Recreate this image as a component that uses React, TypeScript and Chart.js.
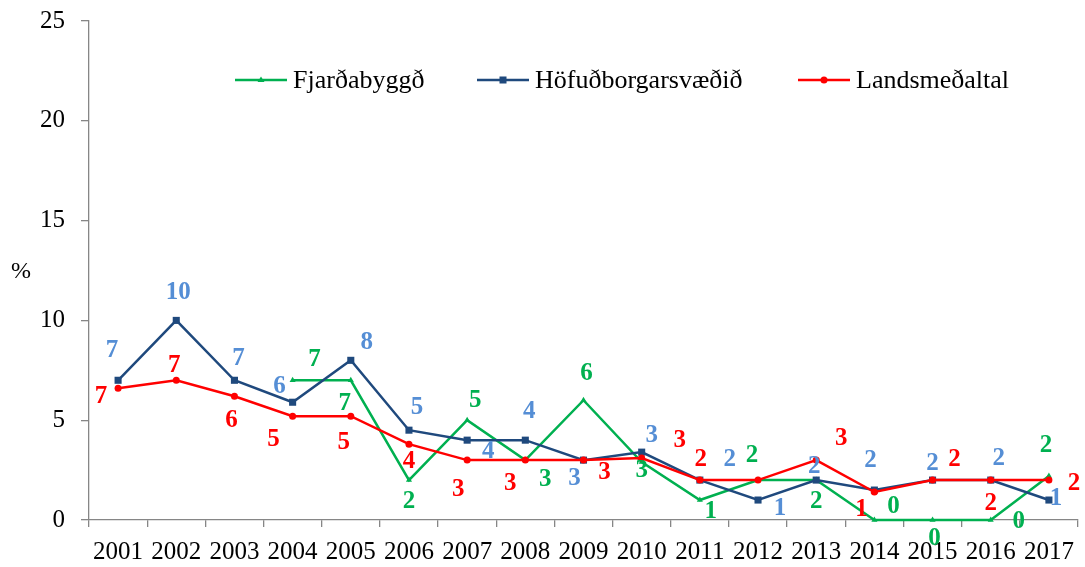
import React, { useEffect, useRef } from "react";
import { Chart, registerables } from "chart.js";

Chart.register(...registerables);

const years = ["2001", "2002", "2003", "2004", "2005", "2006", "2007", "2008", "2009", "2010", "2011", "2012", "2013", "2014", "2015", "2016", "2017"];
const fjardabyggd = [null, null, null, 7.0, 7.0, 2.0, 5.0, 3.0, 6.0, 2.9, 1.0, 2.0, 2.0, 0, 0, 0, 2.2];
const hofudborgarsvaedid = [7.0, 10.0, 7.0, 5.9, 8.0, 4.5, 4.0, 4.0, 3.0, 3.4, 2.0, 1.0, 2.0, 1.5, 2.0, 2.0, 1.0];
const landsmedaltal = [6.6, 7.0, 6.2, 5.2, 5.2, 3.8, 3.0, 3.0, 3.0, 3.1, 2.0, 2.0, 3.0, 1.4, 2.0, 2.0, 2.0];
const yTicks = [0, 5, 10, 15, 20, 25];
const seriesNames = ["Fjarðabyggð", "Höfuðborgarsvæðið", "Landsmeðaltal"];

// style: label offsets (px) relative to each point
const greenLabelOffsets = [null, null, null, [22, -21], [-6, 23], [0, 21], [8, -20], [20, 19], [3, -27], [0, 8], [11, 12], [-6, -25], [0, 21], [19, -13], [2, 19], [28, 2], [-3, -31]];
const navyLabelOffsets = [[-6, -30], [2, -28], [4, -22], [-13, -16], [16, -18], [8, -23], [21, 11], [4, -29], [-9, 18], [10, -17], [30, -21], [22, 9], [-2, -14], [-4, -30], [0, -17], [8, -22], [7, -1]];
const redLabelOffsets = [[-17, 8], [-2, -15], [-3, 24], [-19, 23], [-7, 26], [0, 17], [-9, 29], [-15, 23], [21, 12], [38, -18], [1, -21], null, [25, -22], [-13, 17], [22, -21], [0, 23], [25, 3]];

const GREEN = "#00B050";
const NAVY = "#1F497D";
const NAVY_LABEL = "#558ED5";
const RED = "#FF0000";
const SERIF = '"Liberation Serif", "Times New Roman", serif';

const labelPlugin = {
  id: "pointLabels",
  afterDatasetsDraw(chart: any) {
    const ctx = chart.ctx;
    ctx.save();
    ctx.font = `bold 25px ${SERIF}`;
    ctx.textAlign = "center";
    ctx.textBaseline = "middle";
    chart.data.datasets.forEach((ds: any, di: number) => {
      const meta = chart.getDatasetMeta(di);
      const offs = ds.labelOffsets;
      ctx.fillStyle = ds.labelColor;
      ds.data.forEach((v: any, i: number) => {
        if (v === null || !offs[i]) return;
        const pt = meta.data[i];
        ctx.fillText(String(Math.round(v)), pt.x + offs[i][0], pt.y + offs[i][1]);
      });
    });
    ctx.restore();
  },
};

const legendPlugin = {
  id: "customLegend",
  afterDraw(chart: any) {
    const ctx = chart.ctx;
    const starts = [235, 477, 798];
    const y = 80;
    ctx.save();
    chart.data.datasets.forEach((ds: any, di: number) => {
      const x0 = starts[di];
      const x1 = x0 + 52;
      ctx.strokeStyle = ds.borderColor;
      ctx.lineWidth = 2.5;
      ctx.beginPath();
      ctx.moveTo(x0, y);
      ctx.lineTo(x1, y);
      ctx.stroke();
      ctx.fillStyle = ds.borderColor;
      const cx = (x0 + x1) / 2;
      if (ds.pointStyle === "circle") {
        ctx.beginPath();
        ctx.arc(cx, y, 3.5, 0, Math.PI * 2);
        ctx.fill();
      } else if (ds.pointStyle === "rect") {
        ctx.fillRect(cx - 3.5, y - 3.5, 7, 7);
      } else {
        ctx.beginPath();
        ctx.moveTo(cx, y - 3.5);
        ctx.lineTo(cx + 3.5, y + 2);
        ctx.lineTo(cx - 3.5, y + 2);
        ctx.closePath();
        ctx.fill();
      }
      ctx.fillStyle = "#000";
      ctx.font = `26px ${SERIF}`;
      ctx.textAlign = "left";
      ctx.textBaseline = "middle";
      ctx.fillText(ds.label, x1 + 6, y + 1);
    });
    // y-axis unit
    ctx.font = `24px ${SERIF}`;
    ctx.textAlign = "center";
    ctx.textBaseline = "middle";
    ctx.fillStyle = "#000";
    ctx.fillText("%", 21, 272);
    ctx.restore();
  },
};

export default function App() {
  const ref = useRef<HTMLCanvasElement | null>(null);
  useEffect(() => {
    if (!ref.current) return;
    const chart = new Chart(ref.current, {
      type: "line",
      data: {
        labels: years,
        datasets: [
          {
            label: seriesNames[0],
            data: fjardabyggd,
            borderColor: GREEN,
            backgroundColor: GREEN,
            borderWidth: 2.5,
            pointStyle: "triangle",
            pointRadius: 3.5,
            pointBorderWidth: 0,
            tension: 0,
            clip: false,
            order: 2,
            labelColor: GREEN,
            labelOffsets: greenLabelOffsets,
          } as any,
          {
            label: seriesNames[1],
            data: hofudborgarsvaedid,
            borderColor: NAVY,
            backgroundColor: NAVY,
            borderWidth: 2.5,
            pointStyle: "rect",
            pointRadius: 5,
            pointBorderWidth: 0,
            tension: 0,
            clip: false,
            order: 1,
            labelColor: NAVY_LABEL,
            labelOffsets: navyLabelOffsets,
          } as any,
          {
            label: seriesNames[2],
            data: landsmedaltal,
            borderColor: RED,
            backgroundColor: RED,
            borderWidth: 2.5,
            pointStyle: "circle",
            pointRadius: 3.5,
            pointBorderWidth: 0,
            tension: 0,
            clip: false,
            order: 0,
            labelColor: RED,
            labelOffsets: redLabelOffsets,
          } as any,
        ],
      },
      options: {
        responsive: false,
        animation: false,
        devicePixelRatio: 1,
        layout: { padding: { top: 21, right: 7, left: 0, bottom: 0 } },
        plugins: { legend: { display: false }, tooltip: { enabled: false } },
        scales: {
          x: {
            type: "category",
            offset: true,
            grid: {
              display: true,
              drawOnChartArea: false,
              drawTicks: true,
              tickLength: 7,
              offset: true,
              color: "#868686",
              lineWidth: 1.3,
            },
            border: { display: true, color: "#868686", width: 1.3 },
            ticks: {
              color: "#000",
              font: { family: SERIF, size: 25 },
              padding: 10,
              maxRotation: 0,
              autoSkip: false,
            },
            afterFit(scale: any) {
              scale.height = 47;
              scale.paddingLeft = 0;
              scale.paddingRight = 0;
            },
          },
          y: {
            min: 0,
            max: 25,
            afterBuildTicks(scale: any) {
              scale.ticks = yTicks.map((v) => ({ value: v }));
            },
            grid: {
              display: true,
              drawOnChartArea: false,
              drawTicks: true,
              tickLength: 8,
              color: "#868686",
              lineWidth: 1.3,
            },
            border: { display: true, color: "#868686", width: 1.3 },
            ticks: {
              color: "#000",
              font: { family: SERIF, size: 25 },
              padding: 16,
            },
            afterFit(scale: any) {
              scale.width = 89;
              scale.paddingTop = 0;
              scale.paddingBottom = 0;
            },
          },
        },
      },
      plugins: [labelPlugin, legendPlugin],
    });
    return () => chart.destroy();
  }, []);
  return (
    <div style={{ position: "absolute", left: 0, top: 0, width: 1085, height: 567, background: "#fff" }}>
      <canvas ref={ref} width={1085} height={567} style={{ display: "block" }} />
    </div>
  );
}
